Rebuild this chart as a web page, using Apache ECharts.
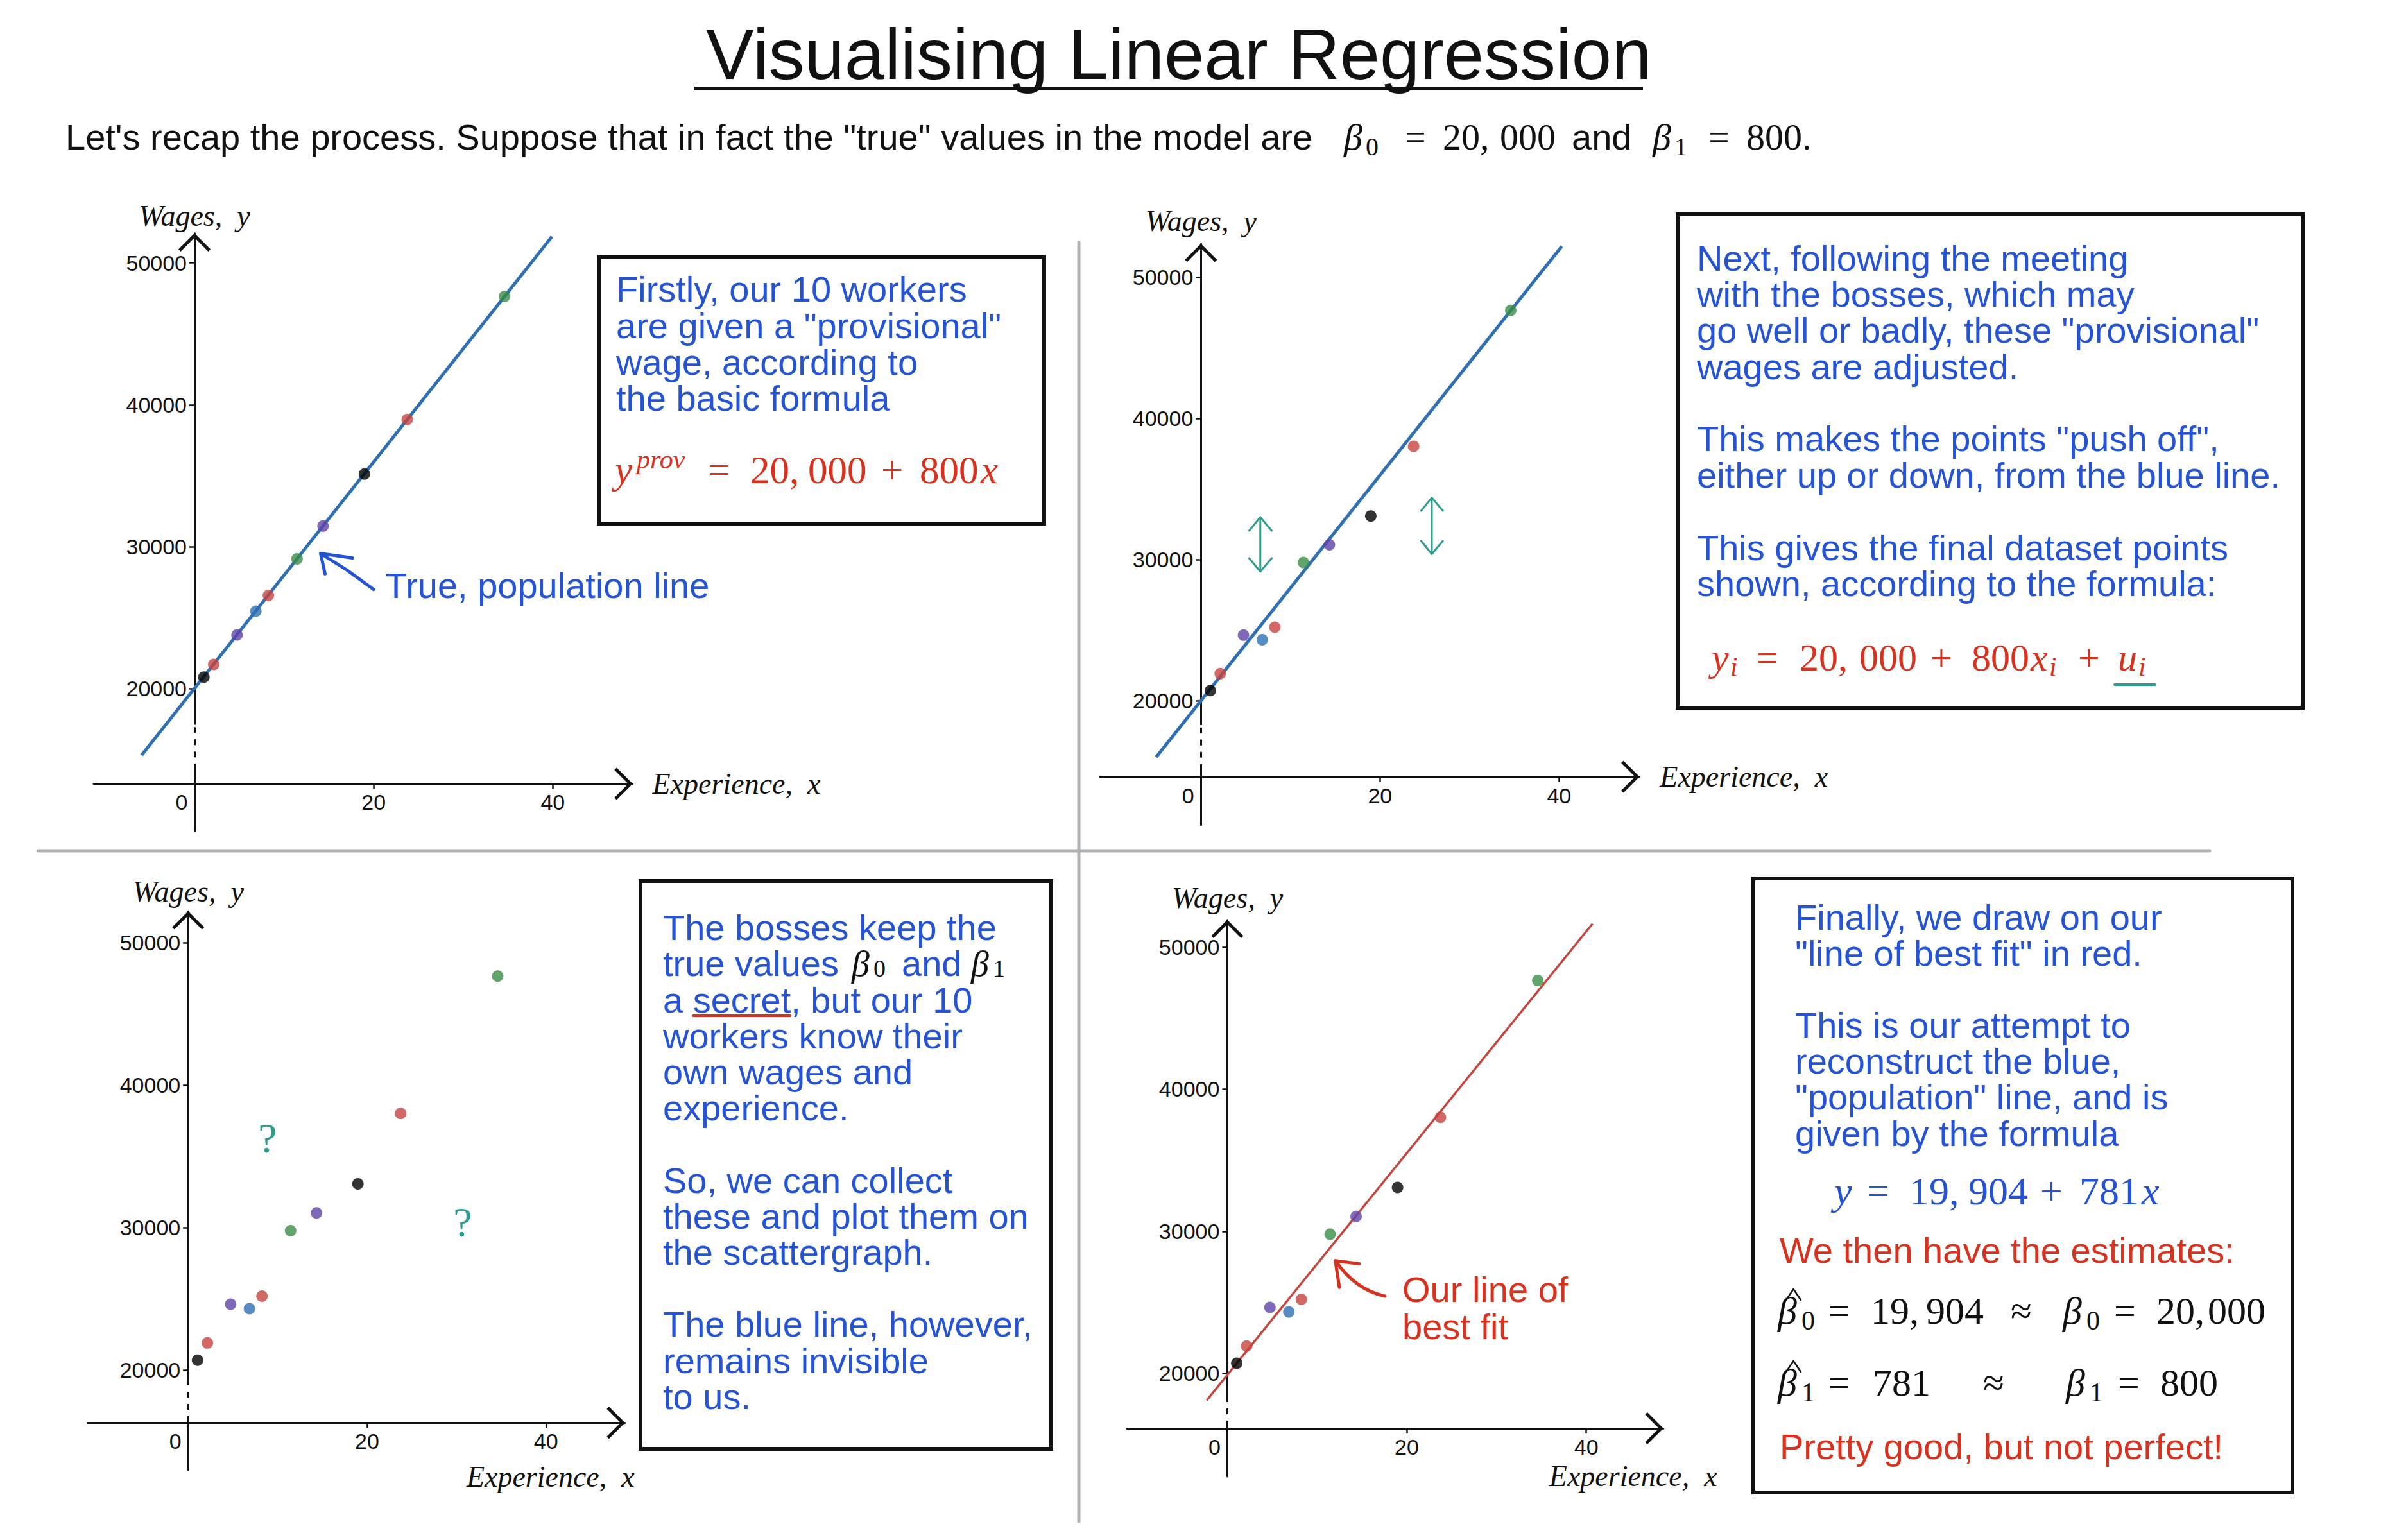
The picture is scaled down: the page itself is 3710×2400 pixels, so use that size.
<!DOCTYPE html>
<html><head><meta charset="utf-8">
<script src="https://cdn.jsdelivr.net/npm/echarts@6/dist/echarts.min.js"></script>
<style>html,body{margin:0;padding:0;background:#fff}#c{width:3710px;height:2400px}</style>
</head><body><div id="c"></div>
<script>
// ---------------- data ----------------
const experience       = [1.05, 2.15, 4.75, 6.85, 8.25, 11.45, 14.35, 18.97, 23.75, 34.6];
const provisionalWages = [20800, 21700, 23780, 25450, 26560, 29140, 31450, 35120, 38960, 47630];
const finalWages       = [20710, 21920, 24640, 24320, 25200, 29790, 31045, 33085, 38025, 47655];
const pointColors = ['#000000','#c74440','#6042a6','#2d70b3','#c74440','#388c46','#6042a6','#000000','#c74440','#388c46'];
const populationLineP1 = [[-5.9, 15300], [39.9, 51850]];
const populationLineP2 = [[-5.0, 16000], [40.3, 52200]];
const bestFitLine      = [[-2.3, 18100], [40.7, 51650]];
const yTickValues = [20000, 30000, 40000, 50000];
const xTickValues = [0, 20, 40];
const xTickMarks  = [20, 40];
// axis extents of each panel
const panelXRange = [[-11.25, 48.9], [-11.29, 48.96], [-11.22, 48.82], [-11.18, 48.58]];
const panelYRange = [[9964, 52076], [11187, 52374], [13003, 52202], [12742, 51911]];
const panelXAxisAt = [13284, 14602, 16322, 16129];
const panelYAxisAt = [0, 0, 0, 0];
const panelAxisBreak = [[14700, 17450], [15510, 18270], [16780, 19185], [16670, 18200]];

// ---------------- layout ----------------
const grids = [
  {left: 146,    top: 363.8,  width: 839.6, height: 931.1},
  {left: 1713.8, top: 380,    width: 840.5, height: 905.7},
  {left: 136.8,  top: 1420.3, width: 836.9, height: 870.6},
  {left: 1756.1, top: 1433.7, width: 835.5, height: 867.2}
];
const yNameGap = [4, 13, 8, 11];
const xNameCfg = [
  {gap: 31, below: false}, {gap: 32, below: false},
  {gap: 15, below: true, pad: 61}, {gap: 84, below: true, pad: 52}
];
const SANS = '"Liberation Sans", Arial, Helvetica, sans-serif';
const SERIF = '"Liberation Serif", "Times New Roman", serif';
const BLUE = '#2453d6', RED = '#d8321f', TEAL = '#2f9c8c', INK = '#111111';
const ARROW = 'path://M25 0 L50 25 L46.5 28.5 L25 7 L3.5 28.5 L0 25 Z';

const xAxes = [], yAxes = [], series = [];
for (let i = 0; i < 4; i++) {
  const yr = panelYRange[i], xr = panelXRange[i];
  const xOff = -(panelXAxisAt[i] - yr[0]) / (yr[1] - yr[0]) * grids[i].height;
  const yOff = -(panelYAxisAt[i] - xr[0]) / (xr[1] - xr[0]) * grids[i].width;
  const nc = xNameCfg[i];
  xAxes.push({
    gridIndex: i, type: 'value', min: xr[0], max: xr[1],
    offset: xOff, splitLine: {show: false},
    axisLine: {onZero: false, lineStyle: {color: INK, width: 3},
      symbol: ['none', ARROW], symbolSize: [50, 28.5], symbolOffset: [0, -14]},
    axisTick: {show: true, customValues: xTickMarks, length: 8, lineStyle: {color: INK, width: 2.5}},
    axisLabel: {customValues: xTickValues, margin: 12, fontSize: 34, fontFamily: SANS, color: INK,
      formatter: v => v === 0 ? '{z|0}' : String(v),
      rich: {z: {fontSize: 34, fontFamily: SANS, color: INK, padding: [0, 40, 0, 0]}}},
    name: 'Experience,  x', nameLocation: 'end', nameGap: nc.gap, nameMoveOverlap: false,
    nameTextStyle: Object.assign({fontFamily: SERIF, fontStyle: 'italic', fontSize: 46, color: INK},
      nc.below ? {align: 'right', verticalAlign: 'top', padding: [nc.pad, 0, 0, 0]} : {align: 'left', verticalAlign: 'middle'})
  });
  yAxes.push({
    gridIndex: i, type: 'value', min: yr[0], max: yr[1], splitLine: {show: false},
    position: 'left', offset: yOff,
    axisLine: {onZero: false, lineStyle: {color: INK, width: 3},
      symbol: ['none', ARROW], symbolSize: [50, 28.5], symbolOffset: [0, -14]},
    axisTick: {show: true, customValues: yTickValues, length: 8, lineStyle: {color: INK, width: 2.5}},
    axisLabel: {customValues: yTickValues, margin: 12, fontSize: 34, fontFamily: SANS, color: INK,
      formatter: v => String(v)},
    name: 'Wages,  y', nameLocation: 'end', nameGap: yNameGap[i], nameMoveOverlap: false,
    nameTextStyle: {fontFamily: SERIF, fontStyle: 'italic', fontSize: 46, color: INK}
  });
  // dashed piece of the broken y axis
  series.push({type: 'line', xAxisIndex: i, yAxisIndex: i, silent: true, showSymbol: false, z: 2,
    data: [[panelYAxisAt[i], panelAxisBreak[i][0]], [panelYAxisAt[i], panelAxisBreak[i][1]]],
    lineStyle: {color: '#ffffff', width: 7, type: [10, 9]}});
}
const pts = ys => experience.map((x, k) => ({value: [x, ys[k]], itemStyle: {color: pointColors[k]}}));
function addLine(i, data, color, w) {
  series.push({type: 'line', xAxisIndex: i, yAxisIndex: i, data: data, showSymbol: false, silent: true, z: 3,
    lineStyle: {color: color, width: w}});
}
function addPts(i, ys) {
  series.push({type: 'scatter', xAxisIndex: i, yAxisIndex: i, data: pts(ys), symbolSize: 18, z: 4, silent: true});
}
addLine(0, populationLineP1, '#2f6fb4', 5); addPts(0, provisionalWages);
addLine(1, populationLineP2, '#2f6fb4', 5); addPts(1, finalWages);
addPts(2, finalWages);
addLine(3, bestFitLine, '#c4473f', 3.5); addPts(3, finalWages);

// ---------------- annotations ----------------
function txt(x, y, text, style) {
  return {type: 'text', x: x, y: y, silent: true, z: 20,
    style: Object.assign({text: text, align: 'left', verticalAlign: 'middle'}, style)};
}
function sans(size, color) { return {fontSize: size, fontFamily: SANS, fill: color}; }
function m(x, cy, s, size, color, italic) {
  return txt(x, cy, s, {fontSize: size, fontFamily: SERIF, fontStyle: italic ? 'italic' : 'normal', fill: color});
}
function block(x, top, text, lh, size, color) {
  return {type: 'text', silent: true, z: 20, x: x, y: top, style: Object.assign({
    text: text, lineHeight: lh, align: 'left', verticalAlign: 'top'}, sans(size, color))};
}
function line(x1, y1, x2, y2, color, w) {
  return {type: 'line', silent: true, z: 20, shape: {x1, y1, x2, y2}, style: {stroke: color, lineWidth: w, lineCap: 'round'}};
}
function poly(points, color, w) {
  return {type: 'polyline', silent: true, z: 20, shape: {points}, style: {stroke: color, lineWidth: w, fill: null, lineCap: 'round', lineJoin: 'round'}};
}
function box(x, y, w, h) {
  return {type: 'rect', silent: true, z: 15, shape: {x, y, width: w, height: h}, style: {fill: null, stroke: INK, lineWidth: 6}};
}

const graphic = [
  // title & subtitle
  txt(1100, 84, 'Visualising Linear Regression', {fontSize: 112, fontFamily: SANS, fill: INK}),
  {type: 'rect', silent: true, z: 20, shape: {x: 1081, y: 135, width: 1479, height: 6}, style: {fill: INK}},
  txt(102, 213, "Let's recap the process. Suppose that in fact the \"true\" values in the model are", sans(56, INK)),
  m(2094, 213, 'β', 58, INK, true), m(2128, 228, '0', 40, INK, false),
  m(2189, 213, '=', 58, INK, false), m(2248, 213, '20,', 58, INK, false), m(2337, 213, '000', 58, INK, false),
  txt(2449, 213, 'and', sans(56, INK)),
  m(2575, 213, 'β', 58, INK, true), m(2609, 228, '1', 40, INK, false),
  m(2662, 213, '=', 58, INK, false), m(2721, 213, '800.', 58, INK, false),
  // dividers
  line(1681, 378, 1681, 2371, '#aeb1b4', 5),
  line(59, 1326, 3443, 1326, '#aeb1b4', 5),
  // box 1
  box(933, 400, 694, 416),
  block(960, 422.4, 'Firstly, our 10 workers\nare given a "provisional"\nwage, according to\nthe basic formula', 56.7, 56, BLUE),
  m(958, 732.5, 'y', 61, RED, true), m(992, 716, 'prov', 42, RED, true),
  m(1103, 732.5, '=', 61, RED, false), m(1169, 732.5, '20,', 61, RED, false), m(1259, 732.5, '000', 61, RED, false),
  m(1373, 732.5, '+', 61, RED, false), m(1433, 732.5, '800', 61, RED, false), m(1528, 732.5, 'x', 61, RED, true),
  // panel 1 arrow
  poly([[582, 918.6], [540, 888], [499.5, 862.5]], BLUE, 5),
  poly([[549.3, 869.5], [499.5, 862.5], [506.5, 894.4]], BLUE, 5),
  txt(600, 912, 'True, population line', sans(56, BLUE)),
  // box 2
  box(2614, 334, 974, 769),
  block(2644, 373.8, 'Next, following the meeting\nwith the bosses, which may\ngo well or badly, these "provisional"\nwages are adjusted.\n\nThis makes the points "push off",\neither up or down, from the blue line.\n\nThis gives the final dataset points\nshown, according to the formula:', 56.4, 56, BLUE),
  m(2667, 1025, 'y', 60, RED, true), m(2696, 1039, 'i', 42, RED, true),
  m(2737, 1025, '=', 60, RED, false), m(2804, 1025, '20,', 60, RED, false), m(2897, 1025, '000', 60, RED, false),
  m(3008, 1025, '+', 60, RED, false), m(3072, 1025, '800', 60, RED, false), m(3164, 1025, 'x', 60, RED, true),
  m(3193, 1039, 'i', 42, RED, true), m(3238, 1025, '+', 60, RED, false), m(3300, 1025, 'u', 60, RED, true),
  m(3332, 1039, 'i', 42, RED, true),
  line(3295, 1067, 3358, 1067, TEAL, 4),
  // panel 2 teal double arrows
  line(1963.8, 806, 1963.8, 890.7, TEAL, 3),
  poly([[1946.5, 827], [1963.8, 806], [1981.5, 827]], TEAL, 3),
  poly([[1946.5, 870], [1963.8, 890.7], [1981.5, 870]], TEAL, 3),
  line(2231, 775.6, 2231, 863.5, TEAL, 3),
  poly([[2214.4, 796], [2231, 775.6], [2248.2, 796]], TEAL, 3),
  poly([[2214.4, 843], [2231, 863.5], [2248.2, 843]], TEAL, 3),
  // box 3
  box(998, 1373, 640, 885),
  block(1033, 1417.5, 'The bosses keep the\ntrue values\na secret, but our 10\nworkers know their\nown wages and\nexperience.\n\nSo, we can collect\nthese and plot them on\nthe scattergraph.\n\nThe blue line, however,\nremains invisible\nto us.', 56.2, 56, BLUE),
  m(1327, 1501.8, 'β', 56, INK, true), m(1361, 1509, '0', 38, INK, false),
  txt(1405, 1501.8, 'and', sans(56, BLUE)),
  m(1513, 1501.8, 'β', 56, INK, true), m(1547, 1509, '1', 38, INK, false),
  line(1080, 1583, 1231, 1583, RED, 4),
  txt(417, 1773, '?', {fontSize: 66, fontFamily: SERIF, fill: TEAL, align: 'center'}),
  txt(721, 1904, '?', {fontSize: 66, fontFamily: SERIF, fill: TEAL, align: 'center'}),
  // panel 4 arrow
  {type: 'bezierCurve', silent: true, z: 20, shape: {x1: 2158, y1: 2020, x2: 2081, y2: 1965, cpx1: 2112, cpy1: 2010},
    style: {stroke: RED, lineWidth: 5, fill: null, lineCap: 'round'}},
  poly([[2117.7, 1969.5], [2080.7, 1964.8], [2087, 2006.3]], RED, 5),
  block(2185, 1980.7, 'Our line of\nbest fit', 58, 56, RED),
  // box 4
  box(2732, 1369, 840, 957),
  block(2797, 1400.9, 'Finally, we draw on our\n"line of best fit" in red.\n\nThis is our attempt to\nreconstruct the blue,\n"population" line, and is\ngiven by the formula', 56.2, 56, BLUE),
  m(2858, 1856, 'y', 62, BLUE, true), m(2909, 1856, '=', 62, BLUE, false), m(2975, 1856, '19,', 62, BLUE, false),
  m(3067, 1856, '904', 62, BLUE, false), m(3179, 1856, '+', 62, BLUE, false), m(3240, 1856, '781', 62, BLUE, false),
  m(3337, 1856, 'x', 62, BLUE, true),
  txt(2773, 1948.6, 'We then have the estimates:', sans(56, RED)),
  // estimate rows
  poly([[2783, 2026], [2794.5, 2009], [2806, 2026]], INK, 2.5),
  m(2770, 2043, 'β', 60, INK, true), m(2807, 2058, '0', 42, INK, false),
  m(2849, 2043, '=', 60, INK, false), m(2915, 2043, '19,', 60, INK, false), m(3001, 2043, '904', 60, INK, false),
  m(3133, 2043, '≈', 60, INK, false),
  m(3214, 2043, 'β', 60, INK, true), m(3251, 2058, '0', 42, INK, false),
  m(3294, 2043, '=', 60, INK, false), m(3360, 2043, '20,', 60, INK, false), m(3440, 2043, '000', 60, INK, false),
  poly([[2783, 2138], [2794.5, 2121], [2806, 2138]], INK, 2.5),
  m(2770, 2155, 'β', 60, INK, true), m(2807, 2170, '1', 42, INK, false),
  m(2849, 2155, '=', 60, INK, false), m(2918, 2155, '781', 60, INK, false),
  m(3090, 2155, '≈', 60, INK, false),
  m(3219, 2155, 'β', 60, INK, true), m(3256, 2170, '1', 42, INK, false),
  m(3300, 2155, '=', 60, INK, false), m(3366, 2155, '800', 60, INK, false),
  txt(2773, 2254.7, 'Pretty good, but not perfect!', sans(56, RED))
];

const chart = echarts.init(document.getElementById('c'), null, {renderer: 'svg', width: 3710, height: 2400});
chart.setOption({
  backgroundColor: '#ffffff',
  animation: false,
  grid: grids.map(g => Object.assign({outerBoundsMode: 'none', containLabel: false}, g)),
  xAxis: xAxes,
  yAxis: yAxes,
  series: series,
  graphic: graphic
});
</script>
</body></html>
